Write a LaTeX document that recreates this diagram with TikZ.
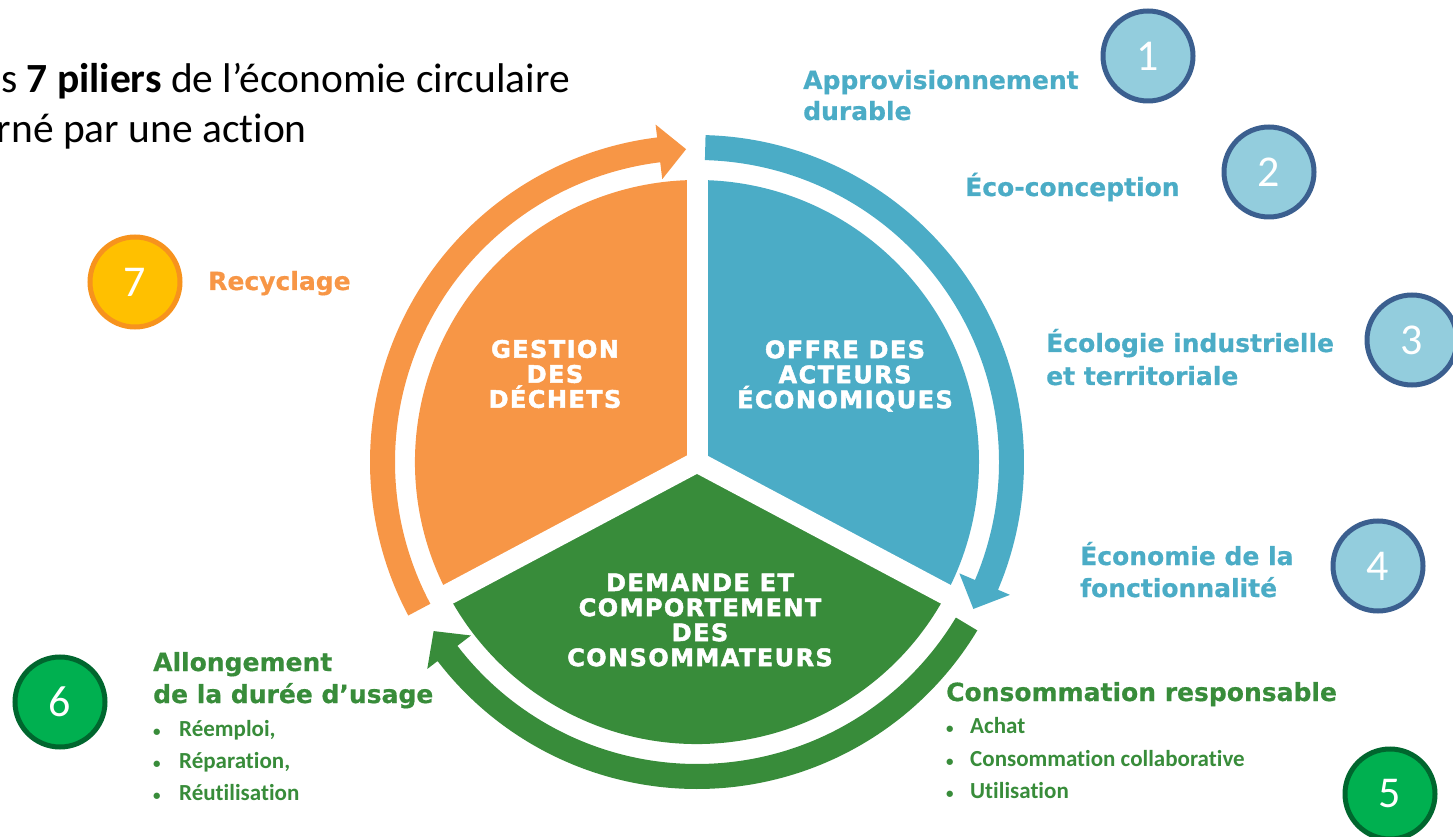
\documentclass[tikz,border=0pt]{standalone}
\usepackage{fontspec}
\setmainfont{Carlito}[Ligatures=NoCommon]
\newfontfamily\labelfamily{DejaVu Sans}[BoldFeatures={FakeBold=0.6}]
\newfontfamily\pillarfamily{DejaVu Sans}[LetterSpace=6, BoldFeatures={FakeBold=2}]
\usetikzlibrary{positioning}
\definecolor{ecoorange}{HTML}{F79646}
\definecolor{ecoblue}{HTML}{4BACC6}
\definecolor{ecogreen}{HTML}{388C3A}
\definecolor{numblue}{HTML}{93CDDD}
\definecolor{numblueline}{HTML}{3B5F8F}
\definecolor{numgreen}{HTML}{00B050}
\definecolor{numgreenline}{HTML}{00662E}
\definecolor{numyellow}{HTML}{FFC000}
\definecolor{numyellowline}{HTML}{F7931D}
\tikzset{badge/.style = {circle, minimum size=90pt, inner sep=0pt, line width=5pt, text=white, font=\fontsize{44}{44}\selectfont}}
\tikzset{bluebadge/.style = {badge, fill=numblue, draw=numblueline}}
\tikzset{greenbadge/.style = {badge, fill=numgreen, draw=numgreenline}}
\tikzset{yellowbadge/.style = {badge, fill=numyellow, draw=numyellowline}}
\tikzset{pillar/.style = {text=white, align=center, inner sep=0pt, font=\pillarfamily\bfseries\fontsize{24}{25}\selectfont}}
\tikzset{lbl/.style = {anchor=base west, inner sep=0pt, font=\labelfamily\bfseries\fontsize{25}{30}\selectfont}}
\tikzset{bluelbl/.style = {lbl, text=ecoblue}}
\tikzset{greenlbl/.style = {lbl, text=ecogreen}}
\tikzset{orangelbl/.style = {lbl, text=ecoorange}}
\tikzset{item/.style = {anchor=base west, inner sep=0pt, text=ecogreen, font=\bfseries\fontsize{23}{28}\selectfont}}
\tikzset{title/.style = {anchor=base east, inner sep=0pt, font=\fontsize{41.5}{50}\selectfont}}
\newcommand{\dotmark}[1]{\makebox[#1][l]{\fontsize{15}{15}\selectfont •}}
% curved block arrow round the pie: colour, start angle, base angle, tip angle
\newcommand{\ringarrow}[4]{%
  \fill[#1] (#2:327) arc[start angle=#2, end angle=#3, radius=327]
    -- (#3:340) -- (#4:313) -- (#3:285) -- (#3:302)
    arc[start angle=#3, end angle=#2, radius=302] -- cycle;}

\begin{document}
\begin{tikzpicture}[x=1pt,y=1pt]
\useasboundingbox (0,0) rectangle (1453,836);

% pie and ring
\begin{scope}[shift={(697,374)}]
\fill[ecoblue] (0,0) -- (90:282) arc[start angle=90, end angle=-28, radius=282] -- cycle;
\fill[ecogreen] (0,0) -- (-28:282) arc[start angle=-28, end angle=-152, radius=282] -- cycle;
\fill[ecoorange] (0,0) -- (208:282) arc[start angle=208, end angle=90, radius=282] -- cycle;
\foreach \a in {90,208,-28}
  \draw[white, line width=21pt] (0,0) -- (\a:292);
\ringarrow{ecoblue}{88.5}{-23}{-28}
\ringarrow{ecogreen}{-31}{-142.5}{-147.3}
\ringarrow{ecoorange}{208}{97}{92}
\end{scope}

\node[pillar] (gestion) at (555,462) {GESTION\\DES\\DÉCHETS};
\node[pillar] (offre) at (845,460) {OFFRE DES\\ACTEURS\\ÉCONOMIQUES};
\node[pillar] (demande) at (700,216) {DEMANDE ET\\COMPORTEMENT\\DES\\CONSOMMATEURS};

% title
\node[title] (title1) at (570,743) {s \textbf{7 piliers} de l’économie circulaire};
\node[title] (title2) at (307,693) {rné par une action};

% numbered pillars
\node[bluebadge] (n1) at (1148,780) {1};
\node[bluebadge] (n2) at (1269,664) {2};
\node[bluebadge] (n3) at (1412,496) {3};
\node[bluebadge] (n4) at (1378,270) {4};
\node[greenbadge] (n5) at (1390,42) {5};
\node[greenbadge] (n6) at (60,134) {6};
\node[yellowbadge] (n7) at (135,554) {7};

\node[bluelbl] (appro1) at (803,747) {Approvisionnement};
\node[bluelbl] (appro2) at (803,716) {durable};
\node[bluelbl] (eco) at (965,640) {Éco-conception};
\node[bluelbl] (ecol1) at (1046,484) {Écologie industrielle};
\node[bluelbl] (ecol2) at (1046,451) {et territoriale};
\node[bluelbl] (econ1) at (1080,271) {Économie de la};
\node[bluelbl] (econ2) at (1080,239) {fonctionnalité};
\node[orangelbl] (recy) at (208,546) {Recyclage};

\node[greenlbl] (conso) at (946,135) {Consommation responsable};
\node[item] (achat) at (946,103) {\dotmark{24pt}Achat};
\node[item] (collab) at (946,70) {\dotmark{24pt}Consommation collaborative};
\node[item] (util) at (946,38) {\dotmark{24pt}Utilisation};

\node[greenlbl] (allong1) at (153,165) {Allongement};
\node[greenlbl] (allong2) at (153,133) {de la durée d’usage};
\node[item] (reemploi) at (153,100) {\dotmark{26pt}Réemploi,};
\node[item] (repar) at (153,68) {\dotmark{26pt}Réparation,};
\node[item] (reutil) at (153,36) {\dotmark{26pt}Réutilisation};
\end{tikzpicture}
\end{document}
